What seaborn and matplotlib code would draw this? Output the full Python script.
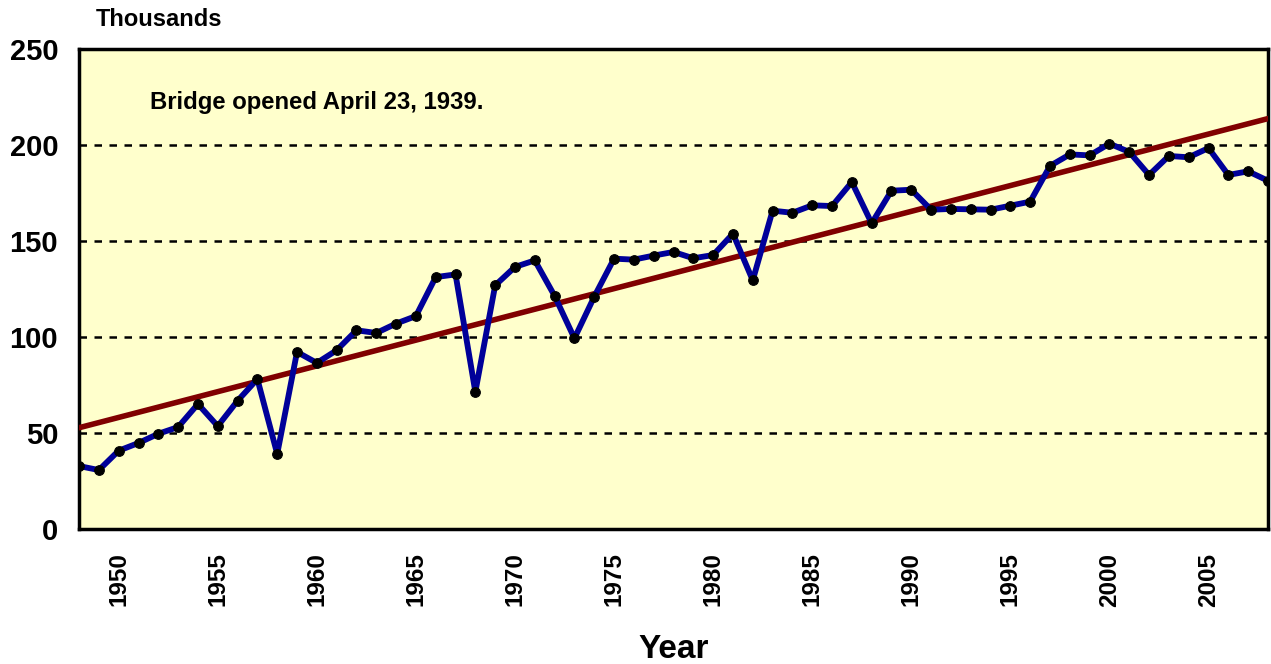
import numpy as np
import pandas as pd
import matplotlib
matplotlib.use("Agg")
import matplotlib.pyplot as plt
import seaborn as sns

years = list(range(1948, 2009))
traffic = [
    32.8, 30.7, 40.8, 44.8, 49.6, 53.1, 65.1, 53.6, 66.8, 78.1,   # 1948-1957
    39.1, 92.2, 86.5, 93.1, 103.5, 102.1, 107.0, 110.9, 131.2, 132.6,  # 1958-1967
    71.4, 126.9, 136.5, 139.9, 121.4, 99.3, 121.0, 140.8, 140.3, 142.4,  # 1968-1977
    144.3, 141.0, 142.7, 153.8, 129.5, 165.8, 164.7, 168.6, 168.2, 180.7,  # 1978-1987
    159.2, 176.2, 176.7, 166.3, 166.7, 166.5, 166.3, 168.4, 170.5, 189.1,  # 1988-1997
    195.1, 194.6, 200.7, 196.4, 184.4, 194.3, 193.6, 198.4, 184.4, 186.3,  # 1998-2007
    181.4,  # 2008
]
y_ticks = [0, 50, 100, 150, 200, 250]
x_labels = [1950, 1955, 1960, 1965, 1970, 1975, 1980, 1985, 1990, 1995, 2000, 2005]

df = pd.DataFrame({"Year": years, "Traffic": traffic})

sns.set_style("white")
plt.rcParams["font.family"] = ["Liberation Sans", "DejaVu Sans"]
plt.rcParams["font.weight"] = "bold"
plt.rcParams["text.color"] = "black"
plt.rcParams["axes.labelcolor"] = "black"
plt.rcParams["xtick.color"] = "black"
plt.rcParams["ytick.color"] = "black"

fig = plt.figure(figsize=(12.71, 6.64), dpi=100)
ax = fig.add_axes([0.0622, 0.2033, 0.9354, 0.7229])
ax.set_facecolor("#FFFFCC")

# Linear trend
sns.regplot(data=df, x="Year", y="Traffic", scatter=False, ci=None, truncate=True,
            ax=ax, line_kws=dict(color="#800000", lw=4, zorder=3))

# Annual values
sns.lineplot(data=df, x="Year", y="Traffic", ax=ax, color="#000099", lw=4.2,
             marker="o", markersize=7, markerfacecolor="black",
             markeredgecolor="black", zorder=4)

ax.set_xlim(1948, 2008)
ax.set_ylim(0, 250)

for v in y_ticks[1:-1]:
    ax.axhline(v, color="black", lw=1.8, ls=(0, (3, 3)), zorder=2)

ax.set_yticks(y_ticks)
ax.set_yticklabels([str(v) for v in y_ticks], fontsize=21, fontweight="bold",
                   color="black")
ax.tick_params(axis="y", length=0, pad=15)

ax.set_xticks(years, minor=True)
ax.set_xticks(x_labels)
ax.set_xticklabels([str(v) for v in x_labels], rotation=90, fontsize=17.5,
                   fontweight="bold", color="black")
ax.tick_params(axis="x", which="both", direction="inout", length=14, width=2.5,
               pad=10, color="black")

for s in ax.spines.values():
    s.set_color("black")
    s.set_linewidth(2.5)

ax.set_xlabel("Year", fontsize=24, fontweight="bold", labelpad=20, color="black")
ax.set_ylabel("")

fig.text(96 / 1271, 1 - 19 / 664, "Thousands", fontsize=17, fontweight="bold",
         ha="left", va="center", color="black")
fig.text(150 / 1271, 1 - 102 / 664, "Bridge opened April 23, 1939.", fontsize=17.2,
         fontweight="bold", ha="left", va="center", color="black")

fig.savefig("out.png", dpi=100)
